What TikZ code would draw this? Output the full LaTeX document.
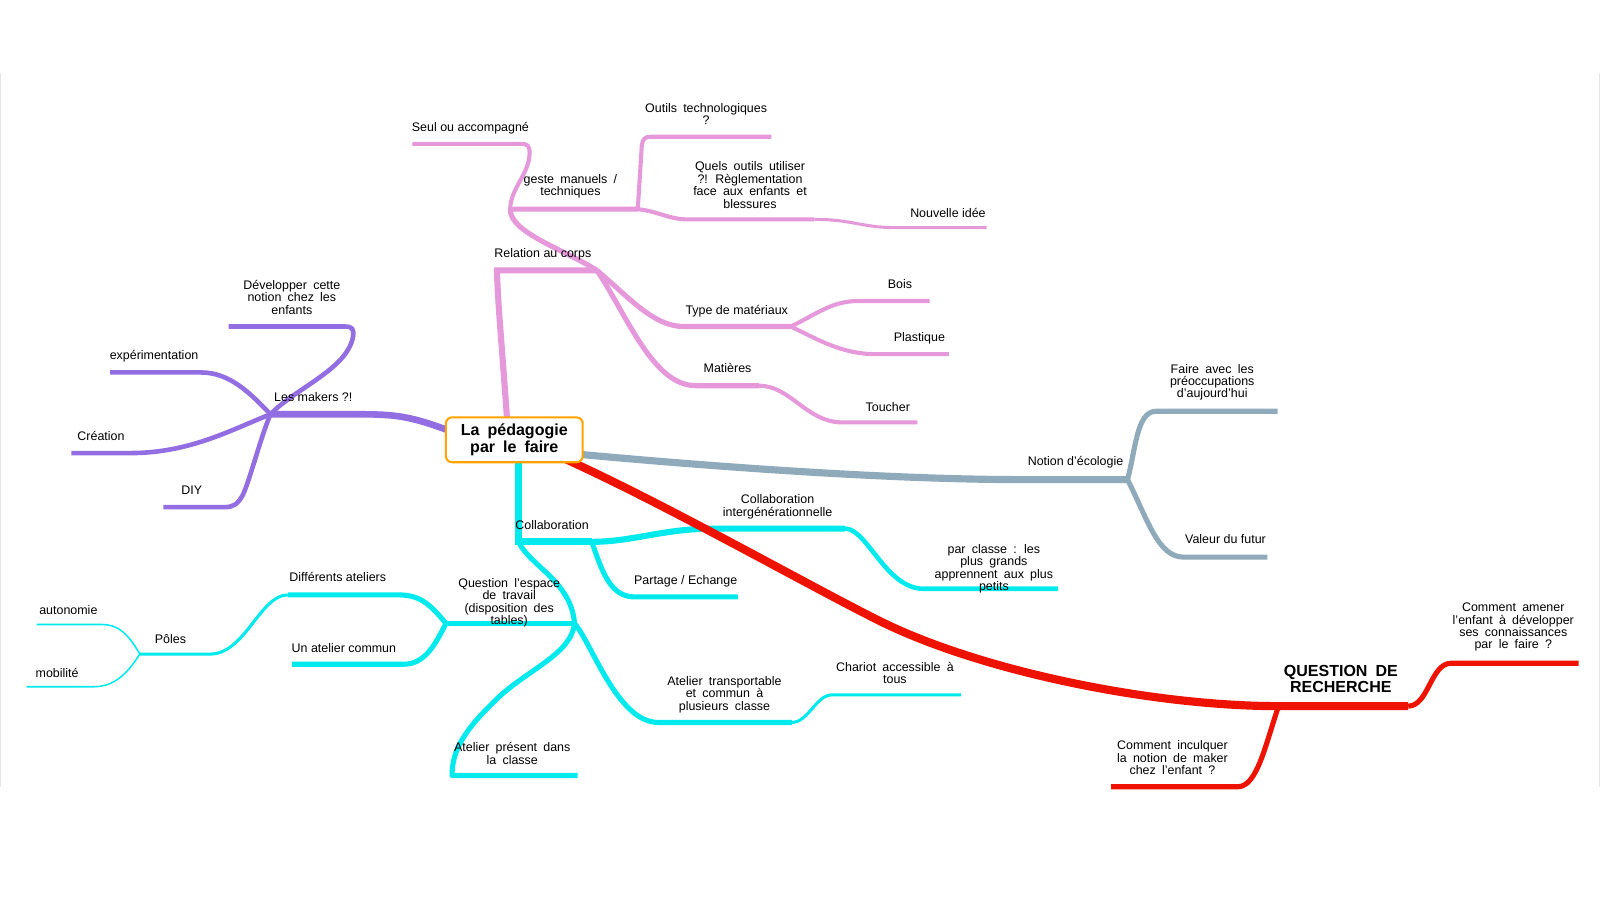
\documentclass[tikz,border=0pt]{standalone}
\usepackage{fontspec}
\setmainfont{Liberation Sans}
\definecolor{cpurple}{RGB}{147,109,226}
\definecolor{cpink}{RGB}{229,152,218}
\definecolor{cgrey}{RGB}{143,170,186}
\definecolor{cred}{RGB}{238,18,0}
\definecolor{ccyan}{RGB}{0,234,238}
\definecolor{corange}{RGB}{255,163,0}
\newcommand{\lblfont}{\fontsize{12.2}{12.2}\selectfont}
\newcommand{\wfont}{\fontsize{12.2}{12.2}\selectfont\spaceskip=0.5em plus 0.1em\relax}
\newcommand{\bigfont}{\fontsize{15.7}{16}\selectfont\bfseries\spaceskip=0.5em plus 0.1em\relax}
\begin{document}
\begin{tikzpicture}[x=1pt,y=-1pt,
  br/.style={line cap=butt,line join=round},
  lbl/.style={anchor=base,inner sep=0pt,align=center,font=\lblfont},
  wlbl/.style={anchor=base,inner sep=0pt,align=center,font=\wfont},
  ]
\useasboundingbox (0,0) rectangle (1568,882);
\fill[white] (0,0) rectangle (1568,882);
\draw[black!10, line width=0.8pt] (0.5,72) -- (0.5,771) (1567.5,72) -- (1567.5,771);

% junction coordinates
\coordinate (jMak) at (265,406);
\coordinate (jRel) at (585,265);
\coordinate (jGes) at (500,205);
\coordinate (jGe2) at (625,205);
\coordinate (jQue) at (798,215);
\coordinate (jTyp) at (775,320);
\coordinate (jMat) at (744,378);
\coordinate (jEco) at (1105,470);
\coordinate (jQ) at (1253,692);
\coordinate (jQ2) at (1380,692);
\coordinate (jCol) at (508,531);
\coordinate (jCo2) at (580,531);
\coordinate (jInt) at (828,518);
\coordinate (jQL) at (437,611);
\coordinate (jQR) at (563,611);
\coordinate (jDif) at (282,583);
\coordinate (jPol) at (137,641);
\coordinate (jTra) at (776,708);

% purple
\draw[br,cpurple,line width=6.5pt] (440,422) .. controls (400,407) and (385,406) .. (350,406) -- (jMak);
\draw[br,cpurple,line width=4.5pt] (jMak) .. controls (290,380) and (340,362) .. (346,330) .. controls (347,322) and (345,320) .. (338,320) -- (224,320);
\draw[br,cpurple,line width=4.5pt] (jMak) .. controls (245,385) and (225,365) .. (197,365) -- (108,365);
\draw[br,cpurple,line width=4.5pt] (jMak) .. controls (225,422) and (185,444) .. (128,444) -- (70,444);
\draw[br,cpurple,line width=4.5pt] (jMak) .. controls (255,430) and (245,470) .. (238,485) .. controls (233,494) and (229,497) .. (220,497) -- (160,497);

% pink
\draw[br,cpink,line width=6pt,line join=miter] (497,412) .. controls (492,340) and (488,300) .. (487,265) -- (jRel);
\draw[br,cpink,line width=5pt] (jRel) .. controls (550,243) and (500,228) .. (jGes) -- (jGe2);
\draw[br,cpink,line width=4pt] (jGes) .. controls (500,185) and (519,170) .. (519,150) .. controls (519,143) and (517,141) .. (511,141) -- (404,141);
\draw[br,cpink,line width=4pt] (jGe2) -- (629,142) .. controls (630,136) and (632,134) .. (638,134) -- (756,134);
\draw[br,cpink,line width=4pt] (jGe2) .. controls (645,207) and (655,215) .. (674,215) -- (jQue);
\draw[br,cpink,line width=3pt] (jQue) .. controls (835,215) and (845,223) .. (876,223) -- (967,223);
\draw[br,cpink,line width=5pt] (jRel) .. controls (615,290) and (640,320) .. (670,320) -- (jTyp);
\draw[br,cpink,line width=4pt] (jTyp) .. controls (800,308) and (815,295) .. (841,295) -- (911,295);
\draw[br,cpink,line width=4pt] (jTyp) .. controls (800,332) and (825,347) .. (857,347) -- (930,347);
\draw[br,cpink,line width=5pt] (jRel) .. controls (615,310) and (640,378) .. (682,378) -- (jMat);
\draw[br,cpink,line width=4pt] (jMat) .. controls (775,378) and (790,414) .. (826,414) -- (899,414);

% grey
\draw[br,cgrey,line width=7pt] (565,445) .. controls (750,462) and (900,470) .. (1000,470) -- (jEco);
\draw[br,cgrey,line width=5pt] (jEco) .. controls (1113,440) and (1114,403) .. (1133,403) -- (1252,403);
\draw[br,cgrey,line width=5pt] (jEco) .. controls (1125,510) and (1135,546) .. (1160,546) -- (1242,546);

% cyan
\draw[br,ccyan,line width=7pt,line join=miter] (508,450) -- (jCol) -- (jCo2);
\draw[br,ccyan,line width=6pt] (jCo2) .. controls (620,531) and (650,518) .. (700,518) -- (jInt);
\draw[br,ccyan,line width=4.5pt] (jInt) .. controls (850,518) and (868,577) .. (905,577) -- (1037,577);
\draw[br,ccyan,line width=5pt] (jCo2) .. controls (590,560) and (598,585) .. (622,585) -- (723,585);
\draw[br,ccyan,line width=5pt] (jCol) .. controls (520,555) and (560,570) .. (jQR);
\draw[br,ccyan,line width=5pt] (jQL) -- (jQR);
\draw[br,ccyan,line width=5pt] (jQL) .. controls (420,590) and (410,583) .. (390,583) -- (jDif);
\draw[br,ccyan,line width=5pt] (jQL) .. controls (425,635) and (415,651) .. (395,651) -- (286,651);
\draw[br,ccyan,line width=3pt] (jDif) .. controls (255,583) and (240,641) .. (206,641) -- (jPol);
\draw[br,ccyan,line width=1.5pt] (jPol) .. controls (125,620) and (115,612) .. (100,612) -- (36,612);
\draw[br,ccyan,line width=1.5pt] (jPol) .. controls (125,660) and (112,673) .. (92,673) -- (26,673);
\draw[br,ccyan,line width=5pt] (jQR) .. controls (560,640) and (520,655) .. (490,682) .. controls (455,715) and (443,735) .. (443,760) -- (566,760);
\draw[br,ccyan,line width=5pt] (jQR) .. controls (580,630) and (605,708) .. (645,708) -- (jTra);
\draw[br,ccyan,line width=3pt] (jTra) .. controls (792,708) and (800,681) .. (815,681) -- (942,681);

% red
\draw[br,cred,line width=8pt] (550,448) .. controls (650,493) and (791,573) .. (861,608) .. controls (961,658) and (1130,692) .. (jQ) -- (jQ2);
\draw[br,cred,line width=5pt] (jQ2) .. controls (1400,692) and (1402,650) .. (1422,650) -- (1547,650);
\draw[br,cred,line width=5pt] (jQ) .. controls (1240,730) and (1232,771) .. (1213,771) -- (1089,771);

% center node
\node[draw=corange, line width=2pt, rounded corners=6pt, fill=white, minimum width=134pt, minimum height=44pt, inner sep=0pt, align=center, font=\bigfont] (center) at (504,431) {La pédagogie\\par le faire};

% labels purple
\node[wlbl] (tDev) at (286,308) {Développer cette\\notion chez les\\enfants};
\node[lbl] (tExp) at (151,352) {expérimentation};
\node[lbl] (tMak) at (307,393) {Les makers ?!};
\node[lbl] (tCre) at (99,432) {Création};
\node[lbl] (tDIY) at (188,485) {DIY};
% labels pink
\node[lbl] (tSeul) at (461,129) {Seul ou accompagné};
\node[wlbl] (tOut) at (692,122) {Outils technologiques\\?};
\node[wlbl] (tGes) at (559,192) {geste manuels /\\techniques};
\node[wlbl] (tQue) at (735,204) {Quels outils utiliser\\?! Règlementation\\face aux enfants et\\blessures};
\node[lbl] (tNou) at (929,213) {Nouvelle idée};
\node[lbl] (tRel) at (532,252) {Relation au corps};
\node[lbl] (tTyp) at (722,308) {Type de matériaux};
\node[lbl] (tBoi) at (882,283) {Bois};
\node[lbl] (tPla) at (901,335) {Plastique};
\node[lbl] (tMat) at (713,365) {Matières};
\node[lbl] (tTou) at (870,403) {Toucher};
% labels grey
\node[wlbl] (tFai) at (1188,390) {Faire avec les\\préoccupations\\d'aujourd'hui};
\node[lbl] (tEco) at (1054,456) {Notion d'écologie};
\node[lbl] (tVal) at (1201,533) {Valeur du futur};
% labels red
\node[anchor=base,inner sep=0pt,align=center,font=\bigfont] (tQR) at (1314,679) {QUESTION DE\\RECHERCHE};
\node[wlbl] (tAme) at (1483,636) {Comment amener\\l'enfant à développer\\ses connaissances\\par le faire ?};
\node[wlbl] (tInc) at (1149,759) {Comment inculquer\\la notion de maker\\chez l'enfant ?};
% labels cyan
\node[lbl] (tCol) at (541,519) {Collaboration};
\node[lbl] (tInt) at (762,506) {Collaboration\\intergénérationnelle};
\node[wlbl] (tPar) at (974,579) {par classe : les\\plus grands\\apprennent aux plus\\petits};
\node[lbl] (tPar2) at (672,573) {Partage / Echange};
\node[wlbl] (tQst) at (499,612) {Question l'espace\\de travail\\(disposition des\\tables)};
\node[lbl] (tDif) at (331,570) {Différents ateliers};
\node[lbl] (tUna) at (337,639) {Un atelier commun};
\node[lbl] (tPol) at (167,631) {Pôles};
\node[lbl] (tAut) at (67,602) {autonomie};
\node[lbl] (tMob) at (56,664) {mobilité};
\node[wlbl] (tApr) at (502,749) {Atelier présent dans\\la classe};
\node[wlbl] (tTra) at (710,696) {Atelier transportable\\et commun à\\plusieurs classe};
\node[wlbl] (tCha) at (877,670) {Chariot accessible à\\tous};
\end{tikzpicture}
\end{document}
